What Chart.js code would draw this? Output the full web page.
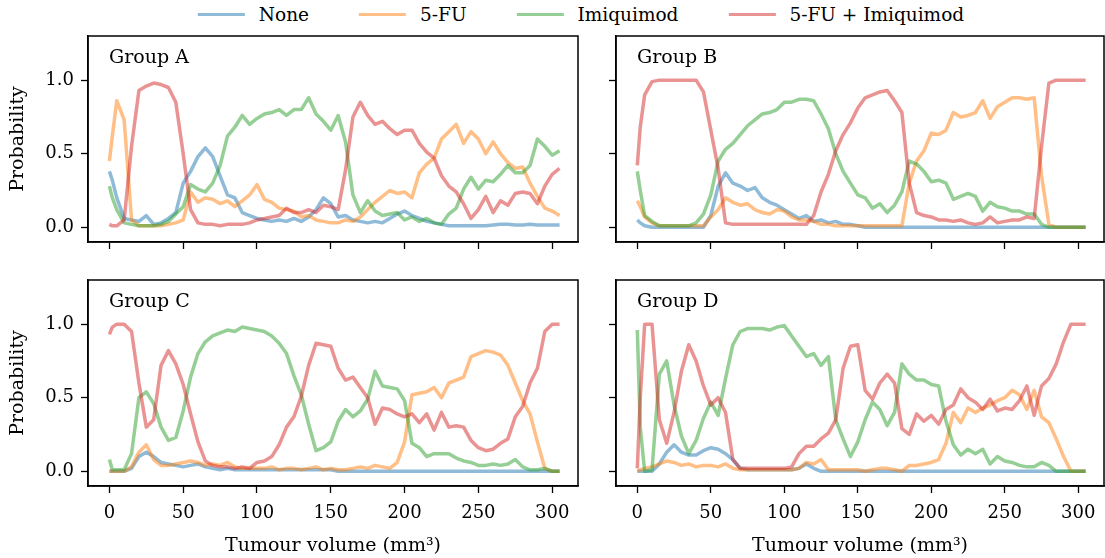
<!DOCTYPE html>
<html>
<head>
<meta charset="utf-8">
<script src="https://cdn.jsdelivr.net/npm/chart.js@4.4.0/dist/chart.umd.min.js"></script>
<style>
  body { margin: 0; background: #fff; }
  #wrap { position: relative; width: 1105px; height: 558px; font-family: 'DejaVu Serif', serif; }
  canvas { position: absolute; left: 0; top: 0; }
  #legend { position: absolute; top: 4px; left: 581px; transform: translateX(-50%); display: flex; align-items: center; white-space: nowrap; font-size: 18.5px; color: #000; }
  .item { display: flex; align-items: center; margin: 0 25px; }
  .swatch { width: 47px; height: 3.5px; margin-right: 14px; }
</style>
</head>
<body>
<div id="wrap">
  <div id="legend"></div>
  <canvas id="panelA" width="1105" height="558"></canvas>
  <canvas id="panelB" width="1105" height="558"></canvas>
  <canvas id="panelC" width="1105" height="558"></canvas>
  <canvas id="panelD" width="1105" height="558"></canvas>
</div>
<script>
// tumour volume grid (mm^3)
const volume = [0, 2, 5, 10, 15, 20, 25, 30, 35, 40, 45, 50,
  55, 60, 65, 70, 75, 80, 85, 90, 95, 100,
  105, 110, 115, 120, 125, 130, 135, 140, 145, 150,
  155, 160, 165, 170, 175, 180, 185, 190, 195, 200,
  205, 210, 215, 220, 225, 230, 235, 240, 245, 250,
  255, 260, 265, 270, 275, 280, 285, 290, 295, 300, 305];

const treatments = ['None', '5-FU', 'Imiquimod', '5-FU + Imiquimod'];
const colours = ['rgba(31,119,180,0.5)', 'rgba(255,127,14,0.5)', 'rgba(44,160,44,0.5)', 'rgba(214,39,40,0.5)'];
const xTicks = [0, 50, 100, 150, 200, 250, 300];
const yTicks = [0, 0.5, 1.0];

// Group A
const groupA_none = [0.38,0.32,0.2,0.06,0.05,0.04,0.08,0.02,0.03,0.06,0.1,0.3,
  0.38,0.48,0.54,0.48,0.35,0.22,0.2,0.1,0.08,0.06,
  0.05,0.04,0.05,0.04,0.06,0.04,0.07,0.12,0.2,0.16,
  0.07,0.08,0.05,0.04,0.03,0.04,0.03,0.06,0.09,0.11,
  0.08,0.06,0.04,0.03,0.02,0.01,0.01,0.01,0.01,0.01,
  0.01,0.015,0.02,0.02,0.015,0.015,0.02,0.015,0.015,0.015,0.015];
const groupA_fu = [0.45,0.62,0.86,0.73,0.05,0.01,0.01,0.01,0.01,0.02,0.03,0.05,
  0.24,0.17,0.2,0.19,0.16,0.18,0.14,0.18,0.22,0.29,
  0.19,0.17,0.13,0.12,0.11,0.07,0.08,0.05,0.04,0.03,
  0.03,0.05,0.04,0.07,0.12,0.17,0.21,0.25,0.23,0.24,
  0.2,0.37,0.43,0.47,0.6,0.65,0.7,0.57,0.65,0.6,
  0.5,0.58,0.5,0.44,0.4,0.41,0.3,0.21,0.13,0.11,0.08];
const groupA_imq = [0.28,0.2,0.12,0.03,0.02,0.01,0.01,0.01,0.02,0.04,0.09,0.14,
  0.29,0.26,0.24,0.3,0.42,0.62,0.68,0.76,0.7,0.74,
  0.77,0.78,0.8,0.76,0.8,0.8,0.88,0.77,0.72,0.66,
  0.76,0.58,0.22,0.1,0.18,0.11,0.08,0.09,0.1,0.05,
  0.07,0.04,0.06,0.03,0.02,0.09,0.13,0.26,0.34,0.26,
  0.32,0.31,0.36,0.42,0.37,0.37,0.42,0.6,0.55,0.49,0.52];
const groupA_combo = [0.02,0.01,0.01,0.05,0.55,0.93,0.96,0.98,0.97,0.95,0.85,0.5,
  0.12,0.03,0.02,0.02,0.01,0.02,0.02,0.02,0.03,0.05,
  0.06,0.07,0.08,0.13,0.1,0.1,0.12,0.1,0.15,0.14,
  0.12,0.39,0.75,0.85,0.76,0.7,0.72,0.67,0.63,0.66,
  0.66,0.57,0.51,0.47,0.35,0.28,0.24,0.16,0.06,0.12,
  0.21,0.1,0.18,0.15,0.23,0.24,0.23,0.16,0.28,0.36,0.4];

// Group B
const groupB_none = [0.05,0.03,0.01,0,0,0,0,0,0,0,0,0.08,
  0.28,0.37,0.3,0.28,0.25,0.27,0.2,0.17,0.15,0.12,
  0.09,0.06,0.08,0.04,0.05,0.03,0.04,0.02,0.02,0.01,
  0,0,0,0,0,0,0,0,0,0,
  0,0,0,0,0,0,0,0,0,0,
  0,0,0,0,0,0,0,0,0,0,0];
const groupB_fu = [0.18,0.14,0.07,0.03,0.01,0.01,0.01,0.01,0.01,0.01,0.01,0.07,
  0.12,0.2,0.17,0.15,0.16,0.12,0.1,0.09,0.12,0.11,
  0.07,0.05,0.05,0.04,0.02,0.02,0.01,0.01,0.01,0.01,
  0.01,0.01,0.01,0.01,0.01,0.01,0.3,0.45,0.52,0.64,
  0.63,0.66,0.78,0.75,0.76,0.78,0.86,0.74,0.82,0.85,
  0.88,0.88,0.87,0.88,0.35,0.02,0,0,0,0,0];
const groupB_imq = [0.38,0.25,0.08,0.04,0.01,0.01,0.01,0.01,0.01,0.03,0.09,0.22,
  0.45,0.53,0.57,0.63,0.69,0.73,0.77,0.78,0.8,0.85,
  0.85,0.87,0.87,0.86,0.77,0.67,0.5,0.38,0.3,0.22,
  0.2,0.13,0.16,0.1,0.15,0.24,0.45,0.43,0.38,0.31,
  0.32,0.3,0.19,0.21,0.23,0.21,0.11,0.17,0.14,0.13,
  0.11,0.11,0.09,0.09,0.02,0,0,0,0,0,0];
const groupB_combo = [0.42,0.68,0.9,0.99,1,1,1,1,1,1,0.92,0.66,
  0.4,0.03,0.02,0.02,0.02,0.02,0.02,0.02,0.02,0.02,
  0.02,0.02,0.02,0.08,0.24,0.36,0.52,0.63,0.71,0.81,
  0.88,0.9,0.92,0.93,0.86,0.78,0.3,0.1,0.08,0.07,
  0.05,0.05,0.04,0.05,0.03,0.02,0.03,0.07,0.03,0.04,
  0.05,0.05,0.07,0.06,0.55,0.98,1,1,1,1,1];

// Group C
const groupC_none = [0,0,0,0,0.02,0.1,0.13,0.1,0.06,0.05,0.04,0.03,
  0.04,0.05,0.03,0.02,0.01,0.02,0.01,0.01,0.01,0.01,
  0.01,0.01,0.01,0.01,0.01,0.01,0.01,0.01,0.01,0.01,
  0,0,0,0,0,0,0,0,0,0,
  0,0,0,0,0,0,0,0,0,0,
  0,0,0,0,0,0,0,0,0,0,0];
const groupC_fu = [0,0,0,0,0.03,0.13,0.18,0.08,0.04,0.04,0.05,0.06,
  0.07,0.06,0.04,0.05,0.04,0.06,0.03,0.02,0.02,0.02,
  0.02,0.03,0.01,0.02,0.02,0.01,0.02,0.03,0.01,0.02,
  0.01,0.01,0.02,0.03,0.02,0.04,0.03,0.02,0.06,0.2,
  0.52,0.53,0.54,0.57,0.5,0.6,0.62,0.64,0.78,0.8,
  0.82,0.81,0.79,0.72,0.6,0.48,0.39,0.2,0.02,0,0];
const groupC_imq = [0.08,0.01,0.01,0.01,0.12,0.5,0.54,0.46,0.3,0.21,0.23,0.41,
  0.64,0.8,0.88,0.92,0.94,0.96,0.95,0.98,0.97,0.96,
  0.95,0.92,0.87,0.8,0.65,0.52,0.32,0.14,0.16,0.2,
  0.34,0.42,0.37,0.41,0.49,0.68,0.58,0.57,0.56,0.48,
  0.19,0.16,0.1,0.12,0.12,0.12,0.09,0.07,0.06,0.04,
  0.04,0.05,0.04,0.05,0.08,0.03,0.01,0.01,0.02,0,0];
const groupC_combo = [0.93,0.98,1,1,0.95,0.6,0.3,0.35,0.72,0.82,0.73,0.59,
  0.39,0.2,0.07,0.04,0.03,0.03,0.02,0.03,0.02,0.06,
  0.07,0.1,0.18,0.3,0.37,0.51,0.72,0.87,0.86,0.85,
  0.7,0.62,0.64,0.57,0.5,0.32,0.43,0.42,0.39,0.37,
  0.39,0.33,0.39,0.28,0.4,0.3,0.31,0.3,0.21,0.16,
  0.14,0.15,0.19,0.22,0.37,0.44,0.6,0.7,0.95,1,1];

// Group D
const groupD_none = [0,0,0,0,0.05,0.13,0.18,0.13,0.11,0.11,0.14,0.16,
  0.15,0.12,0.08,0.02,0.01,0.01,0.01,0.01,0.01,0.01,
  0.01,0.02,0.05,0.02,0,0,0,0,0,0,
  0,0,0,0,0,0,0,0,0,0,
  0,0,0,0,0,0,0,0,0,0,
  0,0,0,0,0,0,0,0,0,0,0];
const groupD_fu = [0,0.01,0.02,0.03,0.05,0.07,0.06,0.04,0.05,0.03,0.04,0.04,
  0.03,0.05,0.02,0.01,0.01,0.01,0.01,0.01,0.01,0.01,
  0.01,0.02,0.06,0.05,0.08,0.01,0.01,0.01,0.01,0.01,
  0,0.01,0.02,0.02,0.01,0,0.04,0.04,0.05,0.06,
  0.08,0.19,0.4,0.33,0.43,0.4,0.43,0.45,0.48,0.5,
  0.55,0.52,0.42,0.55,0.37,0.33,0.22,0.1,0,0,0];
const groupD_imq = [0.96,0.3,0,0.01,0.66,0.75,0.45,0.24,0.12,0.21,0.36,0.47,
  0.38,0.63,0.86,0.95,0.97,0.97,0.97,0.96,0.98,0.99,
  0.92,0.85,0.78,0.8,0.72,0.78,0.35,0.22,0.1,0.2,
  0.35,0.47,0.42,0.31,0.4,0.73,0.66,0.62,0.62,0.59,
  0.58,0.34,0.18,0.11,0.15,0.12,0.15,0.05,0.1,0.07,
  0.06,0.04,0.03,0.03,0.06,0.04,0,0,0,0,0];
const groupD_combo = [0.02,0.5,1,1,0.35,0.19,0.4,0.68,0.86,0.75,0.58,0.45,
  0.5,0.4,0.08,0.02,0.02,0.02,0.02,0.02,0.02,0.02,
  0.03,0.12,0.17,0.17,0.22,0.26,0.35,0.7,0.85,0.86,
  0.55,0.49,0.6,0.66,0.6,0.29,0.25,0.39,0.34,0.38,
  0.32,0.42,0.45,0.56,0.5,0.47,0.42,0.49,0.41,0.43,
  0.42,0.48,0.58,0.38,0.58,0.63,0.73,0.88,1,1,1];

Chart.defaults.font.family = "'DejaVu Serif', serif";
Chart.defaults.font.size = 18;
Chart.defaults.color = '#000';

// legend (shared by all panels)
const legend = document.getElementById('legend');
treatments.forEach((name, i) => {
    const item = document.createElement('div');
    item.className = 'item';
    item.innerHTML = '<div class="swatch" style="background:' + colours[i] + '"></div><span>' + name + '</span>';
    legend.appendChild(item);
});

const framePlugin = {
    id: 'frame',
    afterDraw(chart, args, opts) {
        const { ctx, chartArea: a } = chart;
        ctx.save();
        ctx.strokeStyle = '#000';
        ctx.lineWidth = 1.5;
        ctx.strokeRect(a.left, a.top, a.right - a.left, a.bottom - a.top);
        ctx.font = "19px 'DejaVu Serif'";
        ctx.fillStyle = '#000';
        ctx.textBaseline = 'middle';
        ctx.fillText(opts.label, a.left + 21, a.top + 22);
        ctx.restore();
    }
};

const AXIS_W = 81;
const AXIS_H = 71;

function makePanel(id, label, series, area, showX, showY) {
    const ctx = document.getElementById(id).getContext('2d');
    return new Chart(ctx, {
        type: 'line',
        data: {
            datasets: series.map((vals, i) => ({
                label: treatments[i],
                data: volume.map((v, k) => ({ x: v, y: vals[k] })),
                borderColor: colours[i],
                borderWidth: 3.5,
                borderJoinStyle: 'round',
                pointRadius: 0,
                tension: 0,
                fill: false,
                order: 3 - i
            }))
        },
        options: {
            responsive: false,
            animation: false,
            devicePixelRatio: 1,
            layout: {
                padding: {
                    left: area.left - AXIS_W,
                    right: 1105 - area.right,
                    top: area.top,
                    bottom: 558 - area.bottom - AXIS_H
                }
            },
            plugins: {
                legend: { display: false },
                tooltip: { enabled: false },
                frame: { label: label }
            },
            scales: {
                x: {
                    type: 'linear',
                    min: -14.5,
                    max: 317.5,
                    afterBuildTicks: (s) => { s.ticks = xTicks.map(v => ({ value: v })); },
                    afterFit: (s) => { s.height = AXIS_H; s.paddingLeft = 0; s.paddingRight = 0; },
                    grid: { drawOnChartArea: false, drawTicks: true, tickLength: 7, tickWidth: 1.3, tickColor: '#000' },
                    border: { display: true, color: '#000', width: 1.5 },
                    ticks: { display: showX, padding: 10, maxRotation: 0, callback: (v) => String(v) },
                    title: { display: showX, text: 'Tumour volume (mm³)', padding: 0, font: { size: 19 } }
                },
                y: {
                    min: -0.1,
                    max: 1.3,
                    afterBuildTicks: (s) => { s.ticks = yTicks.map(v => ({ value: v })); },
                    afterFit: (s) => { s.width = AXIS_W; s.paddingTop = 0; s.paddingBottom = 0; },
                    grid: { drawOnChartArea: false, drawTicks: true, tickLength: 7, tickWidth: 1.3, tickColor: '#000' },
                    border: { display: true, color: '#000', width: 1.5 },
                    ticks: { display: showY, padding: 7, callback: (v) => v.toFixed(1) },
                    title: { display: showY, text: 'Probability', padding: 0, font: { size: 19 } }
                }
            }
        },
        plugins: [framePlugin]
    });
}

makePanel('panelA', 'Group A', [groupA_none, groupA_fu, groupA_imq, groupA_combo],
    { left: 88, right: 578, top: 36, bottom: 242 }, false, true);
makePanel('panelB', 'Group B', [groupB_none, groupB_fu, groupB_imq, groupB_combo],
    { left: 616, right: 1104, top: 36, bottom: 242 }, false, false);
makePanel('panelC', 'Group C', [groupC_none, groupC_fu, groupC_imq, groupC_combo],
    { left: 88, right: 578, top: 280, bottom: 486 }, true, true);
makePanel('panelD', 'Group D', [groupD_none, groupD_fu, groupD_imq, groupD_combo],
    { left: 616, right: 1104, top: 280, bottom: 486 }, true, false);
</script>
</body>
</html>
